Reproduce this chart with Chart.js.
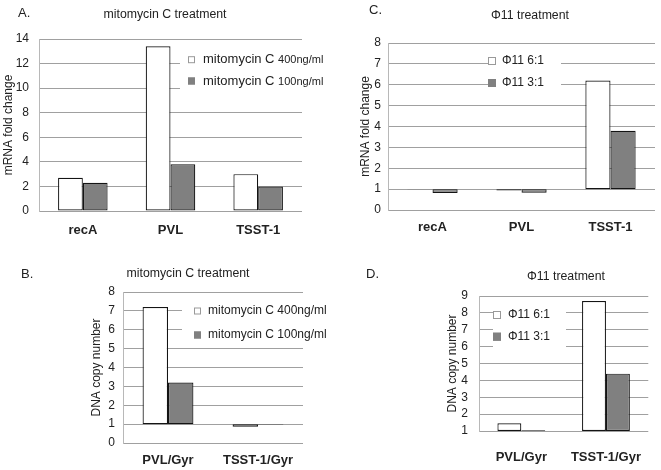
<!DOCTYPE html>
<html>
<head>
<meta charset="utf-8">
<script src="https://cdn.jsdelivr.net/npm/chart.js@4"></script>
<style>
  body { margin: 0; background: #fff; }
  #page { position: relative; width: 661px; height: 470px; overflow: hidden;
          font-family: Arial, 'Liberation Sans', sans-serif; color: #222; }
  .panel { position: absolute; }
  .txt { position: absolute; white-space: nowrap; font-size: 12.3px; transform: translate(-50%, -50%); }
  .tag { position: absolute; white-space: nowrap; font-size: 13px; transform: translateY(-50%); }
</style>
</head>
<body>
<div id="page">
  <canvas id="chartA" class="panel" style="left:0;top:0"></canvas>
  <canvas id="chartC" class="panel" style="left:330px;top:0"></canvas>
  <canvas id="chartB" class="panel" style="left:0;top:240px"></canvas>
  <canvas id="chartD" class="panel" style="left:330px;top:240px"></canvas>

  <div class="tag" style="left:18px;top:12px">A.</div>
  <div class="txt" style="left:165px;top:14px">mitomycin C treatment</div>
  <div class="tag" style="left:369px;top:9px">C.</div>
  <div class="txt" style="left:530px;top:15px">Φ11 treatment</div>
  <div class="tag" style="left:21px;top:273px">B.</div>
  <div class="txt" style="left:188px;top:273px">mitomycin C treatment</div>
  <div class="tag" style="left:366px;top:273px">D.</div>
  <div class="txt" style="left:566px;top:276px">Φ11 treatment</div>
</div>
<script>
// series names
const mitoSeries = ['mitomycin C 400ng/ml', 'mitomycin C 100ng/ml'];
const phiSeries = ['Φ11 6:1', 'Φ11 3:1'];

// A. mRNA, mitomycin C
const genesA = ['recA', 'PVL', 'TSST-1'];
const mito400A = [2.7, 13.4, 3.0];
const mito100A = [2.3, 3.8, 2.0];

// C. mRNA, phi11
const genesC = ['recA', 'PVL', 'TSST-1'];
const phi61C = [0.98, 0.94, 6.2];
const phi31C = [0.82, 0.83, 3.8];

// B. DNA copy number, mitomycin C
const ratiosB = ['PVL/Gyr', 'TSST-1/Gyr'];
const mito400B = [7.2, 0.86];
const mito100B = [3.2, 0.97];

// D. DNA copy number, phi11
const ratiosD = ['PVL/Gyr', 'TSST-1/Gyr'];
const phi61D = [1.46, 8.7];
const phi31D = [1.05, 4.4];

const FONT = "Arial, 'Liberation Sans', sans-serif";
const INK = '#222';

// white legend block drawn over the grid, under the bars
const boxLegend = {
    id: 'boxLegend',
    beforeDatasetsDraw(chart, args, opts) {
        const ctx = chart.ctx;
        ctx.save();
        ctx.fillStyle = '#fff';
        ctx.fillRect(opts.bg[0], opts.bg[1], opts.bg[2], opts.bg[3]);
        ctx.textBaseline = 'middle';
        chart.data.datasets.forEach((ds, i) => {
            const y = opts.rows[i];
            const s = opts.box;
            ctx.fillStyle = ds.backgroundColor;
            ctx.strokeStyle = i === 0 ? '#999' : ds.backgroundColor;
            ctx.lineWidth = 1;
            ctx.fillRect(opts.boxX, y - s / 2, s, s);
            ctx.strokeRect(opts.boxX + 0.5, y - s / 2 + 0.5, s - 1, s - 1);
            ctx.fillStyle = INK;
            if (opts.tailSize) {
                // head and tail of the label in two sizes
                const cut = ds.label.lastIndexOf(' ') + 1;
                const head = ds.label.slice(0, cut);
                const tail = ds.label.slice(cut);
                ctx.font = opts.size + 'px ' + FONT;
                ctx.fillText(head, opts.textX, y);
                const w = ctx.measureText(head).width;
                ctx.font = opts.tailSize + 'px ' + FONT;
                ctx.fillText(tail, opts.textX + w, y + 0.5);
            } else {
                ctx.font = opts.size + 'px ' + FONT;
                ctx.fillText(ds.label, opts.textX, y);
            }
        });
        ctx.restore();
    }
};

function makePanel(id, w, h, cats, vals1, vals2, names, cfg) {
    const canvas = document.getElementById(id);
    canvas.width = w;
    canvas.height = h;
    canvas.style.width = w + 'px';
    canvas.style.height = h + 'px';
    const base = cfg.base;
    const toBars = (vals) => base === 0 ? vals : vals.map(v => [base, v]);

    return new Chart(canvas.getContext('2d'), {
        type: 'bar',
        data: {
            labels: cats,
            datasets: [{
                label: names[0],
                data: toBars(vals1),
                backgroundColor: '#ffffff',
                borderColor: '#141414',
                borderWidth: 1.2,
                borderSkipped: false
            }, {
                label: names[1],
                data: toBars(vals2),
                backgroundColor: '#808080',
                borderColor: '#141414',
                borderWidth: 1.2,
                borderSkipped: false
            }]
        },
        options: {
            responsive: false,
            animation: false,
            devicePixelRatio: 1,
            layout: {
                padding: { top: cfg.area.top, right: w - cfg.area.right, left: 0, bottom: 0 }
            },
            datasets: {
                bar: { categoryPercentage: 0.565, barPercentage: 1.0 }
            },
            plugins: {
                legend: { display: false },
                tooltip: { enabled: false },
                boxLegend: cfg.legend
            },
            scales: {
                x: {
                    grid: { display: false, drawTicks: false },
                    border: { display: false },
                    ticks: {
                        color: INK,
                        padding: cfg.xPad,
                        font: { family: FONT, size: 13, weight: 'bold' }
                    },
                    afterFit: (scale) => { scale.height = h - cfg.area.bottom; }
                },
                y: {
                    min: cfg.min,
                    max: cfg.max,
                    ticks: {
                        stepSize: cfg.step,
                        autoSkip: false,
                        color: INK,
                        padding: cfg.yPad,
                        font: { family: FONT, size: 12 }
                    },
                    grid: { color: '#a0a0a0', lineWidth: 1, drawTicks: false },
                    border: { color: '#b8b8b8', width: 1 },
                    title: {
                        display: true,
                        text: cfg.yTitle,
                        color: INK,
                        padding: { top: cfg.titlePad, bottom: 0 },
                        font: { family: FONT, size: 12 }
                    },
                    afterFit: (scale) => { scale.width = cfg.area.left; }
                }
            }
        },
        plugins: [boxLegend]
    });
}

makePanel('chartA', 330, 240, genesA, mito400A, mito100A, mitoSeries, {
    base: 0, min: 0, max: 14, step: 2,
    area: { left: 39, right: 302, top: 39, bottom: 211 },
    xPad: 12, yPad: 10, titlePad: 1,
    yTitle: 'mRNA fold change',
    legend: { bg: [180, 46, 150, 46], rows: [59.7, 81], boxX: 188, box: 7, textX: 203, size: 13, tailSize: 11 }
});

makePanel('chartC', 331, 240, genesC, phi61C, phi31C, phiSeries, {
    base: 1, min: 0, max: 8, step: 1,
    area: { left: 58, right: 325, top: 43, bottom: 210 },
    xPad: 10, yPad: 7, titlePad: 28,
    yTitle: 'mRNA fold change',
    legend: { bg: [158, 52, 73, 40], rows: [61, 83], boxX: 158, box: 8, textX: 172, size: 12 }
});

makePanel('chartB', 330, 230, ratiosB, mito400B, mito100B, mitoSeries, {
    base: 1, min: 0, max: 8, step: 1,
    area: { left: 123, right: 303, top: 52, bottom: 203 },
    xPad: 10, yPad: 8, titlePad: 89,
    yTitle: 'DNA copy number',
    legend: { bg: [182, 60, 148, 46], rows: [71, 95], boxX: 194, box: 7, textX: 208, size: 12 }
});

makePanel('chartD', 331, 230, ratiosD, phi61D, phi31D, phiSeries, {
    base: 1, min: 1, max: 9, step: 1,
    area: { left: 149, right: 327, top: 56, bottom: 191 },
    xPad: 19, yPad: 11, titlePad: 115,
    yTitle: 'DNA copy number',
    legend: { bg: [163, 62, 73, 52], rows: [75, 96.7], boxX: 163, box: 8, textX: 178, size: 12 }
});
</script>
</body>
</html>
